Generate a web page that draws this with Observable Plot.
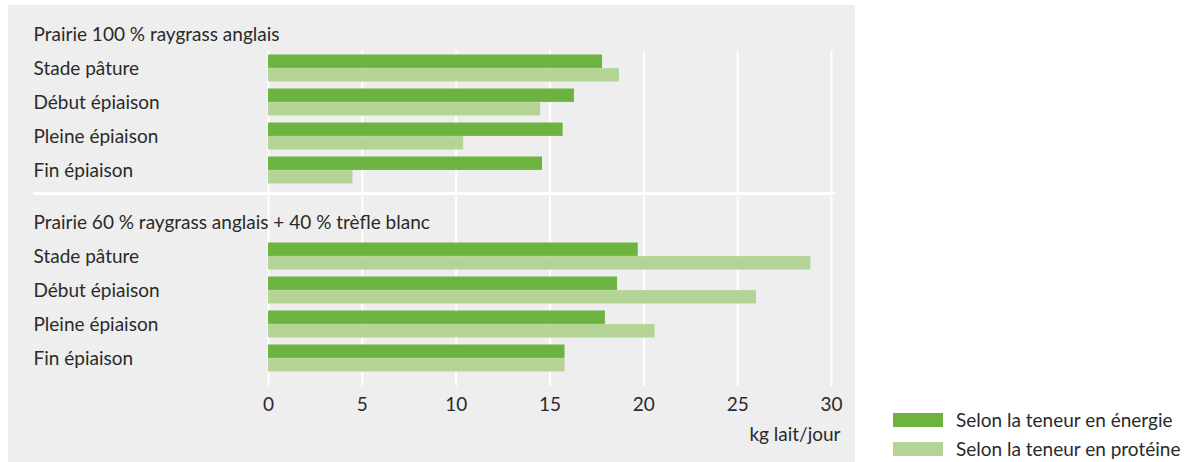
<!DOCTYPE html>
<html>
<head>
<meta charset="utf-8">
<script src="https://cdn.jsdelivr.net/npm/d3@7"></script>
<script src="https://cdn.jsdelivr.net/npm/@observablehq/plot@0.6"></script>
<style>
  html, body { margin: 0; padding: 0; background: #ffffff; }
  #wrap { position: relative; width: 1188px; height: 462px; font-family: Lato, "Open Sans", sans-serif; color: #2a2a2a; }
  #panel { position: absolute; left: 8px; top: 5px; width: 847px; height: 457px; background: #eeeeee; }
  #chart { position: absolute; left: 0; top: 0; }
  #legend { position: absolute; left: 893px; top: 406px; font-size: 19px; line-height: 28.5px; }
  .item { display: flex; align-items: center; white-space: nowrap; }
  .sw { width: 50px; height: 14px; margin-right: 13px; }
</style>
</head>
<body>
<div id="wrap">
  <div id="panel"></div>
  <div id="chart"></div>
  <div id="legend"></div>
</div>
<script>
const groups = ["Prairie 100 % raygrass anglais", "Prairie 60 % raygrass anglais + 40 % trèfle blanc"];
const stages = ["Stade pâture", "Début épiaison", "Pleine épiaison", "Fin épiaison"];
const series = ["Selon la teneur en énergie", "Selon la teneur en protéine"];
const colors = ["#6db33f", "#b3d495"];
const energy100 = [17.8, 16.3, 15.7, 14.6];
const protein100 = [18.7, 14.5, 10.4, 4.5];
const energy60 = [19.7, 18.6, 17.95, 15.8];
const protein60 = [28.9, 26.0, 20.6, 15.8];
const xTicks = [0, 5, 10, 15, 20, 25, 30];
const xLabel = "kg lait/jour";
const TITLE = " ";

const energyByGroup = [energy100, energy60];
const proteinByGroup = [protein100, protein60];
const rows = [];
groups.forEach((g, gi) => stages.forEach((s, si) => rows.push({g, stage: s, energy: energyByGroup[gi][si], protein: proteinByGroup[gi][si]})));
const titles = groups.map(g => ({g, row: TITLE}));

const half = 13.6;
const ink = "#2a2a2a";
const chart = Plot.plot({
  width: 1188, height: 462,
  marginLeft: 268, marginRight: 357, marginTop: 16.5, marginBottom: 87.5,
  style: {background: "transparent", fontFamily: "Lato, 'Open Sans', sans-serif", fontSize: "19px", color: ink},
  x: {domain: [0, 30], axis: null},
  y: {domain: [TITLE, ...stages], paddingInner: 0.2, paddingOuter: 0.1, axis: null},
  fy: {domain: groups, paddingInner: 0.096, paddingOuter: 0, axis: null},
  marks: [
    Plot.ruleX(xTicks.map(x => ({x, g: groups[0]})), {x: "x", fy: "g", stroke: "#ffffff", strokeWidth: 2, insetTop: 34, insetBottom: -5}),
    Plot.ruleX(xTicks.map(x => ({x, g: groups[1]})), {x: "x", fy: "g", stroke: "#ffffff", strokeWidth: 2, insetTop: -9, insetBottom: -11}),
    Plot.ruleY([{g: groups[0], y: stages[3]}], {y: "y", fy: "g", dy: 23, stroke: "#ffffff", strokeWidth: 3, insetLeft: -235, insetRight: -4}),
    Plot.barX(rows, {x: "energy", y: "stage", fy: "g", fill: colors[0], insetBottom: half}),
    Plot.barX(rows, {x: "protein", y: "stage", fy: "g", fill: colors[1], insetTop: half}),
    Plot.text(titles, {y: "row", fy: "g", text: "g", frameAnchor: "left", textAnchor: "start", dx: -235, fill: ink}),
    Plot.text(rows, {y: "stage", fy: "g", text: "stage", frameAnchor: "left", textAnchor: "start", dx: -235, fill: ink}),
    Plot.axisX(xTicks, {tickSize: 0, tickPadding: 21.5, fontSize: 19, label: null, fill: ink}),
    Plot.text([{g: groups[1]}], {fy: "g", text: () => xLabel, frameAnchor: "bottom-right", textAnchor: "end", lineAnchor: "middle", dx: 9, dy: 59.5, fill: ink})
  ]
});
document.getElementById("chart").appendChild(chart);

const legend = document.getElementById("legend");
series.forEach((s, i) => {
  const item = document.createElement("div");
  item.className = "item";
  const sw = document.createElement("span");
  sw.className = "sw";
  sw.style.background = colors[i];
  const t = document.createElement("span");
  t.textContent = s;
  item.appendChild(sw);
  item.appendChild(t);
  legend.appendChild(item);
});
</script>
</body>
</html>
